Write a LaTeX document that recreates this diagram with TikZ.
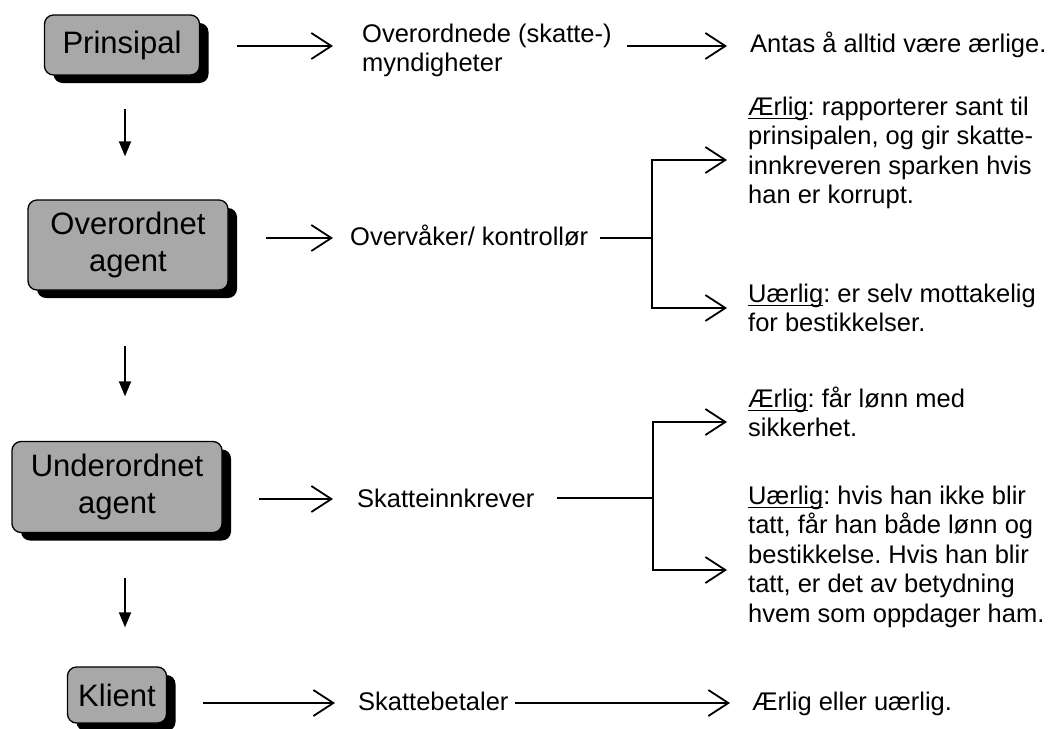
\documentclass[tikz,border=0pt]{standalone}
\usepackage{fontspec}
\setmainfont{Liberation Sans}
\usetikzlibrary{arrows.meta,calc,shadows}
\definecolor{boxgray}{RGB}{168,168,168}
\frenchspacing
% underline drawn just below the baseline, crossing the descenders
\newcommand\ulword[1]{\setbox0=\hbox{#1}\rlap{\rule[-0.17em]{\wd0}{0.07em}}\box0}
\begin{document}
\begin{tikzpicture}[x=1pt,y=-1pt,
  agentbox/.style={draw=black,line width=1.3pt,rounded corners=9pt,fill=boxgray,
    inner sep=0pt,align=center,font=\fontsize{31}{37}\selectfont,
    drop shadow={shadow xshift=9pt,shadow yshift=-8pt,fill=black,opacity=1}},
  % multi-line texts are placed by the baseline of their last line
  txt/.style={anchor=base west,inner sep=0pt,align=left,
    font=\fontsize{25.5}{29.5}\selectfont},
  harrow/.style={line width=1.8pt,
    -{Straight Barb[length=20pt,width=26pt,line width=1.8pt]}},
  varrow/.style={line width=1.8pt,-{Triangle[length=15pt,width=12pt]}},
  plain/.style={line width=1.8pt}]
\useasboundingbox (0,0) rectangle (1062,728);

% hierarchy boxes
\node[agentbox,minimum width=155pt,minimum height=60pt] (b1) at (122,45) {Prinsipal};
\node[agentbox,minimum width=200pt,minimum height=90pt] (b2) at (128,245) {Overordnet\\agent};
\node[agentbox,minimum width=210pt,minimum height=91pt] (b3) at (117,487) {Underordnet\\agent};
\node[agentbox,minimum width=99pt,minimum height=56pt] (b4) at (117,695) {Klient};

% roles
\node[txt] (m1) at (362,71.5) {Overordnede (skatte-)\\myndigheter};
\node[txt] (m2) at (350,245) {Overvåker/ kontrollør};
\node[txt] (m3) at (357,507) {Skatteinnkrever};
\node[txt] (m4) at (358,710) {Skattebetaler};

% behaviour
\node[txt] (r1) at (750,52) {Antas å alltid være ærlige.};
\node[txt] (r2a) at (748,203.5) {\ulword{Ærlig}: rapporterer sant til\\prinsipalen, og gir skatte-\\innkreveren sparken hvis\\han er korrupt.};
\node[txt] (r2b) at (748,331.5) {\ulword{Uærlig}: er selv mottakelig\\for bestikkelser.};
\node[txt] (r3a) at (748,436.5) {\ulword{Ærlig}: får lønn med\\sikkerhet.};
\node[txt] (r3b) at (748,622) {\ulword{Uærlig}: hvis han ikke blir\\tatt, får han både lønn og\\bestikkelse. Hvis han blir\\tatt, er det av betydning\\hvem som oppdager ham.};
\node[txt] (r4) at (752,710) {Ærlig eller uærlig.};

% chain of command
\coordinate (vx) at (125,0);
\draw[varrow] ($(b1.south -| vx)+(0,33)$) -- ($(b2.north -| vx)+(0,-43)$);
\draw[varrow] ($(b2.south -| vx)+(0,55)$) -- ($(b3.north -| vx)+(0,-44.5)$);
\draw[varrow] ($(b3.south -| vx)+(0,44.5)$) -- ($(b4.north -| vx)+(0,-39)$);

% row 1
\coordinate (y1) at (0,46);
\draw[harrow] ($(b1.east |- y1)+(37,0)$) -- ($(m1.west |- y1)+(-29,0)$);
\draw[harrow] ($(m1.east |- y1)+(15,0)$) -- ($(r1.west |- y1)+(-23,0)$);

% row 2
\coordinate (y2) at (0,238);
\coordinate (sp2) at (652,238);
\coordinate (sp2t) at (652,160);
\coordinate (sp2b) at (652,308);
\draw[harrow] ($(b2.east |- y2)+(37,0)$) -- ($(m2.west |- y2)+(-17,0)$);
\draw[plain] ($(m2.east |- sp2)+(12,0)$) -- (sp2);
\draw[harrow] (sp2) -- (sp2t) -- ($(r2a.west |- sp2t)+(-21,0)$);
\draw[harrow] (sp2) -- (sp2b) -- ($(r2b.west |- sp2b)+(-21,0)$);

% row 3
\coordinate (y3) at (0,499);
\coordinate (sp3) at (653,498);
\coordinate (sp3t) at (653,422);
\coordinate (sp3b) at (653,570);
\draw[harrow] ($(b3.east |- y3)+(36,0)$) -- ($(m3.west |- y3)+(-24,0)$);
\draw[plain] ($(m3.east |- sp3)+(22,0)$) -- (sp3);
\draw[harrow] (sp3) -- (sp3t) -- ($(r3a.west |- sp3t)+(-21,0)$);
\draw[harrow] (sp3) -- (sp3b) -- ($(r3b.west |- sp3b)+(-21,0)$);

% row 4
\coordinate (y4) at (0,703);
\draw[harrow] ($(b4.east |- y4)+(36,0)$) -- ($(m4.west |- y4)+(-23,0)$);
\draw[harrow] ($(m4.east |- y4)+(6,0)$) -- ($(r4.west |- y4)+(-22,0)$);
\end{tikzpicture}
\end{document}
